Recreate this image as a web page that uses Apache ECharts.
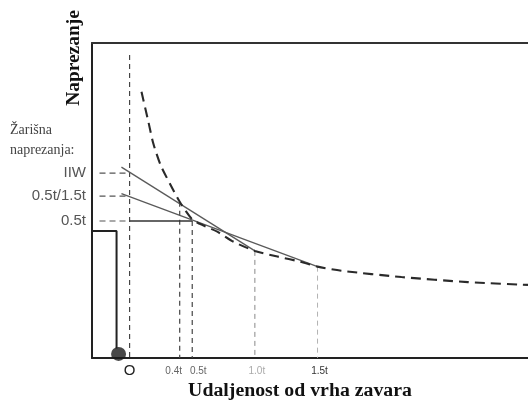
<!DOCTYPE html>
<html>
<head>
<meta charset="utf-8">
<script src="https://cdn.jsdelivr.net/npm/echarts@6/dist/echarts.min.js"></script>
<style>
  html, body { margin: 0; padding: 0; background: #fff; }
  #chart { width: 528px; height: 401px; }
</style>
</head>
<body>
<div id="chart"></div>
<script>
// Distance from the weld toe, in plate thicknesses t
const curveX = [0.095, 0.15, 0.19, 0.25, 0.32, 0.4, 0.5, 0.56, 0.7, 0.83, 1.0, 1.18, 1.36, 1.5, 1.69, 2.17, 2.7, 3.18];
// Surface stress along the plate (relative units)
const curveY = [84.5, 75.0, 68.0, 61.0, 55.5, 49.6, 44.0, 42.6, 40.1, 36.9, 34.0, 32.2, 30.6, 29.0, 27.7, 25.7, 24.1, 23.2];

// Extrapolation lines: [x, stress] end points
const iiwLine = [[-0.065, 60.6], [1.0, 34.0]];
const halfOneHalfLine = [[-0.065, 52.2], [1.5, 29.0]];

// Hot-spot stress levels at the weld toe
const hotSpotNames = ['IIW', '0.5t/1.5t', '0.5t'];
const hotSpotValues = [58.7, 51.4, 43.5];

// Read-out positions along the plate and their stress
const readX = [0.4, 0.5, 1.0, 1.5];
const readY = [49.6, 43.5, 34.0, 29.0];

// Axis tick labels
const tickValues = [0, 0.4, 0.5, 1.0, 1.5];
const tickTexts = ['O', '0.4t', '0.5t', '1.0t', '1.5t'];
const tickStyles = ['o', 'l', 'r', 'g', 'c'];

// Plate outline and weld
const plateX = [-0.3, -0.104, -0.104];
const plateY = [40.3, 40.3, 3];
const weldPoint = [-0.088, 1.3];

const X_MIN = -0.3, X_MAX = 3.18;
const refStart = -0.24;

function seg(points, color, width, dash, z) {
  return {
    type: 'line', data: points, symbol: 'none', silent: true, z: z || 2,
    lineStyle: { color: color, width: width, type: dash ? dash : 'solid' },
    animation: false
  };
}

const series = [];

// Vertical reference at the weld toe
series.push(seg([[0, 96.2], [0, 0]], '#444', 1.2, [5, 4]));

// Horizontal dashed read-outs of the hot-spot levels
hotSpotValues.forEach(function (v) {
  series.push(seg([[refStart, v], [0, v]], '#555', 1.1, [6, 4]));
});

// Vertical dashed lines at the read-out points
const readColors = ['#444', '#444', '#888', '#aaa'];
const readWidths = [1.2, 1.2, 1, 0.9];
readX.forEach(function (x, i) {
  series.push(seg([[x, readY[i]], [x, 0]], readColors[i], readWidths[i], [5, 4]));
});

// 0.5t hot-spot (horizontal, solid)
series.push(seg([[0, hotSpotValues[2]], [0.5, hotSpotValues[2]]], '#333', 1.6, null, 3));

// Linear extrapolation lines
series.push(seg(iiwLine, '#5a5a5a', 1.3, null, 3));
series.push(seg(halfOneHalfLine, '#5a5a5a', 1.3, null, 3));

// Stress distribution along the plate
series.push({
  type: 'line', smooth: 0.25, symbol: 'none', silent: true, z: 4, animation: false,
  data: curveX.map(function (x, i) { return [x, curveY[i]]; }),
  lineStyle: { color: '#2a2a2a', width: 2.1, type: [10, 6] }
});

// Plate outline
series.push(seg(plateX.map(function (x, i) { return [x, plateY[i]]; }), '#222', 2, null, 5));

// Weld bead
series.push({
  type: 'scatter', data: [weldPoint], symbol: 'circle', symbolSize: [15, 14], clip: false,
  itemStyle: { color: '#1a1a1a' }, silent: true, z: 6, animation: false
});

const labelFont = 'Liberation Sans';
const chart = echarts.init(document.getElementById('chart'), null, { renderer: 'canvas' });
chart.setOption({
  backgroundColor: '#fff',
  animation: false,
  grid: { left: 92, right: 0, top: 43, bottom: 43, outerBoundsMode: 'none', containLabel: false },
  xAxis: [{
    type: 'value', min: X_MIN, max: X_MAX, position: 'bottom',
    axisLine: { show: true, onZero: false, lineStyle: { color: '#222', width: 2 } },
    axisTick: { show: false },
    splitLine: { show: false },
    axisLabel: {
      customValues: tickValues,
      margin: 5,
      formatter: function (v) {
        const i = tickValues.findIndex(function (t) { return Math.abs(t - v) < 1e-6; });
        return i < 0 ? '' : '{' + tickStyles[i] + '|' + tickTexts[i] + '}';
      },
      rich: {
        o: { fontFamily: labelFont, fontSize: 15, color: '#222' },
        l: { fontFamily: labelFont, fontSize: 10, color: '#666', padding: [3, 12, 0, 0] },
        r: { fontFamily: labelFont, fontSize: 10, color: '#666', padding: [3, 0, 0, 12] },
        g: { fontFamily: labelFont, fontSize: 10, color: '#aaa', padding: [3, 0, 0, 4] },
        c: { fontFamily: labelFont, fontSize: 10, color: '#333', padding: [3, 0, 0, 4] }
      }
    }
  }, {
    type: 'value', min: X_MIN, max: X_MAX, position: 'top',
    axisLine: { show: true, onZero: false, lineStyle: { color: '#333', width: 2 } },
    axisTick: { show: false }, axisLabel: { show: false }, splitLine: { show: false }
  }],
  yAxis: {
    type: 'value', min: 0, max: 100,
    axisLine: { show: true, onZero: false, lineStyle: { color: '#222', width: 2 } },
    axisTick: { show: false },
    splitLine: { show: false },
    axisLabel: {
      customValues: hotSpotValues,
      margin: 6,
      fontFamily: labelFont, fontSize: 15, color: '#555',
      formatter: function (v) {
        const i = hotSpotValues.findIndex(function (t) { return Math.abs(t - v) < 1e-6; });
        return i < 0 ? '' : hotSpotNames[i];
      }
    }
  },
  graphic: [{
    type: 'text', x: 74, y: 58, rotation: Math.PI / 2, scaleX: 1.08,
    style: {
      text: 'Naprezanje', fontFamily: 'Liberation Serif', fontWeight: 'bold', fontSize: 18,
      fill: '#111', align: 'center', verticalAlign: 'middle'
    }
  }, {
    type: 'text', x: 10, y: 120,
    style: {
      text: 'Žarišna\nnaprezanja:', fontFamily: 'Liberation Serif', fontSize: 14,
      lineHeight: 20, fill: '#444', align: 'left', verticalAlign: 'top'
    }
  }, {
    type: 'text', x: 300, y: 391, scaleX: 1.1,
    style: {
      text: 'Udaljenost od vrha zavara', fontFamily: 'Liberation Serif', fontWeight: 'bold',
      fontSize: 18, fill: '#111', align: 'center', verticalAlign: 'middle'
    }
  }],
  series: series
});
</script>
</body>
</html>
